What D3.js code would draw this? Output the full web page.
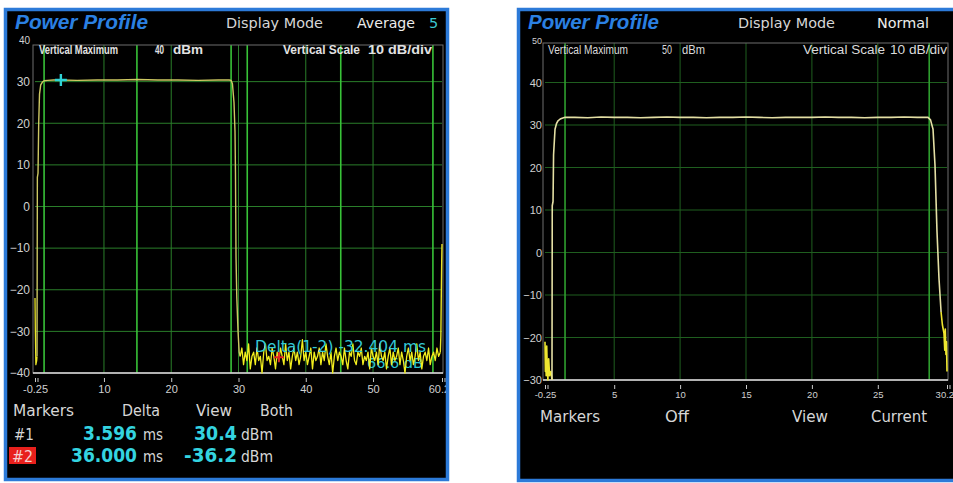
<!DOCTYPE html>
<html>
<head>
<meta charset="utf-8">
<script src="https://cdn.jsdelivr.net/npm/d3@7"></script>
<style>
  html, body { margin: 0; padding: 0; background: #fff; }
  svg { display: block; }
</style>
</head>
<body>
<svg id="chart" width="953" height="483"></svg>
<script>
(function(){
    'use strict';

    // ---- left screen : Display Mode Average 5, 60 ms window
    var avgXTicks = [ -0.25, 10, 20, 30, 40, 50, 60.25 ];
    var avgYTicks = [ 40, 30, 20, 10, 0, -10, -20, -30, -40 ];
    var avgGates = [ 1.1, 14.9, 28.9, 31.3, 45.2, 58.9 ];

    var avgHeadTime = [ -0.25, -0.23, -0.2, -0.17, -0.12, 0.0, 0.05 ];
    var avgHeadPower = [ -22, -25, -30, -33, -38, -37, -36 ];

    var avgTime = [ 0.05, 0.1, 0.2, 0.3, 0.42, 0.6, 0.85, 1.1, 1.6, 2.5, 3.596, 6, 9, 12, 15, 18, 21, 24, 27, 28.6, 28.9, 29.1, 29.33, 29.48, 29.55, 29.63, 29.75, 29.93, 30.1, 30.25 ];
    var avgPower = [ -36, 7, 8, 20, 27, 29.2, 29.9, 30.2, 30.3, 30.4, 30.4, 30.3, 30.4, 30.4, 30.5, 30.4, 30.4, 30.3, 30.4, 30.4, 30.3, 29.5, 25, 18, 8, -12, -22, -30, -35, -36 ];

    // noise floor after the burst, one reading every 0.25 ms from 30.25 ms
    var avgNoiseStart = 30.25,
        avgNoiseStep = 0.25;
    var avgNoise = [
        -36, -34, -38, -35, -37, -33, -39, -36, -35, -38,
        -34, -37, -36, -40, -35, -33, -37, -36, -38, -34,
        -36, -39, -35, -37, -34, -36, -38, -33, -37, -35,
        -39, -36, -34, -37, -35, -38, -36, -32, -37, -35,
        -38, -36, -34, -39, -35, -37, -36, -34, -38, -35,
        -37, -33, -36, -38, -35, -40, -36, -34, -37, -35,
        -36, -38, -34, -37, -39, -35, -36, -33, -37, -38,
        -35, -36, -34, -38, -36, -37, -35, -39, -34, -36,
        -37, -35, -38, -33, -36, -37, -35, -39, -36, -34,
        -38, -35, -37, -36, -34, -38, -35, -37, -40, -36,
        -34, -37, -35, -38, -36, -33, -37, -35, -39, -36,
        -35, -37, -34, -38, -36, -35, -37, -34, -36, -35
    ];
    var avgTailTime = [ 60.0, 60.08, 60.14, 60.2, 60.25 ];
    var avgTailPower = [ -35, -31, -22, -14, -9 ];

    var marker1 = { time : 3.596, power : 30.4 };
    var marker2 = { time : 36.0, power : -36.2 };

    // ---- right screen : Display Mode Normal, 30 ms window
    var normXTicks = [ -0.25, 5, 10, 15, 20, 25, 30.25 ];
    var normYTicks = [ 50, 40, 30, 20, 10, 0, -10, -20, -30 ];
    var normGates = [ 1.27, 28.9 ];

    var normHeadTime = [ -0.25, -0.22, -0.19, -0.16, -0.12, -0.08, -0.03, 0.03, 0.1, 0.2, 0.28 ];
    var normHeadPower = [ -21, -28, -23, -29, -22, -27, -30, -25, -29, -28, -30 ];

    var normTime = [ 0.28, 0.3, 0.36, 0.4, 0.51, 0.62, 0.74, 0.9, 1.05, 1.27, 2, 3, 4, 5, 6, 7, 8, 9, 10, 11, 12, 13, 14, 15, 16, 17, 18, 19, 20, 21, 22, 23, 24, 25, 26, 27, 28, 28.81, 29.0, 29.19, 29.34, 29.49, 29.64, 29.8 ];
    var normPower = [ -30, 11, 12, 23, 29, 30.3, 31.0, 31.4, 31.6, 31.8, 31.8, 31.7, 31.9, 31.8, 31.8, 31.7, 31.8, 31.9, 31.8, 31.8, 31.7, 31.8, 31.8, 31.9, 31.8, 31.7, 31.8, 31.8, 31.8, 31.9, 31.8, 31.8, 31.7, 31.8, 31.8, 31.9, 31.8, 31.8, 31.2, 29, 20.5, 5, -6, -14 ];

    var normTailTime = [ 29.8, 29.9, 30.02, 30.08, 30.12, 30.17, 30.21, 30.25 ];
    var normTailPower = [ -14, -17, -19, -23, -18, -24, -21, -28 ];

    var svg = d3.select( '#chart' );

    function label( g, txt, xPos, yPos, opts ){
        opts = opts || {};
        var t = g.append( 'text' )
            .attr( 'x', xPos )
            .attr( 'y', yPos )
            .attr( 'fill', opts.fill || '#d6d6d6' )
            .attr( 'font-size', opts.size || 15 )
            .attr( 'font-family', opts.family || 'DejaVu Sans, sans-serif' )
            .attr( 'font-weight', opts.weight || 'normal' )
            .attr( 'font-style', opts.style || 'normal' )
            .attr( 'text-anchor', opts.anchor || 'start' )
            .text( txt );

        if ( opts.width ){
            t.attr( 'textLength', opts.width ).attr( 'lengthAdjust', 'spacingAndGlyphs' );
        }
        return t;
    }

    function traceLine( x, y ){
        return d3.line()
            .x( function( d ){ return x( d[0] ); } )
            .y( function( d ){ return y( d[1] ); } );
    }

    function pairs( times, values ){
        return times.map( function( t, i ){ return [ t, values[i] ]; } );
    }

    function drawScreen( cfg ){
        var outer = svg.append( 'g' ),
            x = d3.scaleLinear().domain( cfg.xDomain ).range( cfg.xRange ),
            y = d3.scaleLinear().domain( cfg.yDomain ).range( cfg.yRange ),
            top = cfg.frameTop,
            bottom = y( cfg.yDomain[0] ),
            g, plot, axis, line = traceLine( x, y );

        outer.append( 'clipPath' )
            .attr( 'id', cfg.id + '-clip' )
            .append( 'rect' )
            .attr( 'x', cfg.box[0] ).attr( 'y', cfg.box[1] )
            .attr( 'width', cfg.box[2] ).attr( 'height', cfg.box[3] );

        g = outer.append( 'g' ).attr( 'clip-path', 'url(#' + cfg.id + '-clip)' );

        g.append( 'rect' )
            .attr( 'x', cfg.box[0] ).attr( 'y', cfg.box[1] )
            .attr( 'width', cfg.box[2] ).attr( 'height', cfg.box[3] )
            .attr( 'fill', '#000' );

        plot = g.append( 'g' );

        // horizontal grid
        plot.selectAll( 'line.hgrid' )
            .data( cfg.yTicks.slice( 1, -1 ) )
            .enter().append( 'line' )
            .attr( 'class', 'hgrid' )
            .attr( 'x1', x( cfg.xDomain[0] ) ).attr( 'x2', x( cfg.xDomain[1] ) )
            .attr( 'y1', function( d ){ return y( d ); } )
            .attr( 'y2', function( d ){ return y( d ); } )
            .attr( 'stroke', cfg.gridColor )
            .attr( 'stroke-width', 1 );

        // vertical grid at the time ticks
        plot.selectAll( 'line.vgrid' )
            .data( cfg.xTicks.slice( 1, -1 ) )
            .enter().append( 'line' )
            .attr( 'class', 'vgrid' )
            .attr( 'x1', function( d ){ return x( d ); } )
            .attr( 'x2', function( d ){ return x( d ); } )
            .attr( 'y1', top ).attr( 'y2', bottom )
            .attr( 'stroke', cfg.gridColor )
            .attr( 'stroke-width', 1 );

        // gate lines
        plot.selectAll( 'line.gate' )
            .data( cfg.gates )
            .enter().append( 'line' )
            .attr( 'class', 'gate' )
            .attr( 'x1', function( d ){ return x( d ); } )
            .attr( 'x2', function( d ){ return x( d ); } )
            .attr( 'y1', top ).attr( 'y2', bottom )
            .attr( 'stroke', cfg.gateColor )
            .attr( 'stroke-width', 1.6 );

        // frame
        plot.append( 'rect' )
            .attr( 'x', x( cfg.xDomain[0] ) - 2 ).attr( 'y', top )
            .attr( 'width', x( cfg.xDomain[1] ) - x( cfg.xDomain[0] ) + 3 )
            .attr( 'height', bottom - top )
            .attr( 'fill', 'none' )
            .attr( 'stroke', '#6e6e6e' )
            .attr( 'stroke-width', 1 );

        // y labels
        axis = d3.axisLeft( y )
            .tickValues( cfg.yTicks )
            .tickSize( 0 )
            .tickPadding( 0 )
            .tickFormat( d3.format( 'd' ) );
        plot.append( 'g' )
            .attr( 'transform', 'translate(' + cfg.yLabelX + ',0)' )
            .call( axis )
            .call( function( a ){
                a.select( '.domain' ).remove();
                a.selectAll( 'text' )
                    .attr( 'fill', '#d0d0d0' )
                    .attr( 'font-size', cfg.yLabelSize )
                    .attr( 'font-family', cfg.tickFamily );
                a.selectAll( '.tick' ).filter( function( d ){ return d === cfg.yDomain[1]; } )
                    .select( 'text' ).attr( 'font-size', cfg.yLabelSize - 2 ).attr( 'dy', '0.35em' );
            } );

        // x axis
        axis = d3.axisBottom( x )
            .tickValues( cfg.xTicks )
            .tickSize( 4 )
            .tickPadding( cfg.xLabelPad )
            .tickFormat( function( d ){ return String( d ); } );
        plot.append( 'g' )
            .attr( 'transform', 'translate(0,' + ( bottom + cfg.tickGap ) + ')' )
            .call( axis )
            .call( function( a ){
                a.select( '.domain' ).remove();
                a.selectAll( 'line' ).attr( 'stroke', '#c8c8c8' );
                a.selectAll( 'text' )
                    .attr( 'fill', '#d0d0d0' )
                    .attr( 'font-size', cfg.xLabelSize )
                    .attr( 'font-family', cfg.tickFamily );
                a.selectAll( '.tick' )
                    .filter( function( d, i ){ return i === 0 || i === cfg.xTicks.length - 1; } )
                    .append( 'line' )
                    .attr( 'x1', 2.5 ).attr( 'x2', 2.5 ).attr( 'y2', 4 )
                    .attr( 'stroke', '#c8c8c8' );
            } );

        plot.append( 'line' )
            .attr( 'x1', x( cfg.xDomain[0] ) - 2 ).attr( 'x2', x( cfg.xDomain[1] ) + 1 )
            .attr( 'y1', bottom ).attr( 'y2', bottom )
            .attr( 'stroke', '#dcdcdc' )
            .attr( 'stroke-width', 1.5 );

        if ( cfg.under ){
            cfg.under( plot, x, y );
        }

        cfg.traces.forEach( function( tr ){
            plot.append( 'path' )
                .attr( 'd', line( tr.points ) )
                .attr( 'fill', 'none' )
                .attr( 'stroke', tr.color )
                .attr( 'stroke-width', tr.width )
                .attr( 'stroke-linejoin', 'round' );
        } );

        if ( cfg.over ){
            cfg.over( plot, x, y );
        }

        cfg.texts( g );

        // blue bezel on top
        outer.append( 'rect' )
            .attr( 'x', cfg.box[0] ).attr( 'y', cfg.box[1] )
            .attr( 'width', cfg.box[2] ).attr( 'height', cfg.box[3] )
            .attr( 'fill', 'none' )
            .attr( 'stroke', '#2c7ad8' )
            .attr( 'stroke-width', 3.5 );
    }

    function plus( g, cx, cy, arm, color, w ){
        g.append( 'path' )
            .attr( 'd', 'M' + ( cx - arm ) + ',' + cy + 'H' + ( cx + arm ) + 'M' + cx + ',' + ( cy - arm ) + 'V' + ( cy + arm ) )
            .attr( 'stroke', color )
            .attr( 'stroke-width', w );
    }

    var noisePoints = avgNoise.map( function( v, i ){ return [ avgNoiseStart + i * avgNoiseStep, v ]; } );

    drawScreen( {
        id : 'avg',
        box : [ 5.5, 9.5, 442, 470 ],
        xDomain : [ -0.25, 60.25 ],
        xRange : [ 35, 442 ],
        yDomain : [ -40, 40 ],
        yRange : [ 373, 40 ],
        frameTop : 45,
        xTicks : avgXTicks,
        yTicks : avgYTicks,
        gates : avgGates,
        gridColor : '#2a7e2a',
        gateColor : '#38c238',
        yLabelX : 30,
        yLabelSize : 12,
        xLabelSize : 11,
        xLabelPad : 3,
        tickGap : 5,
        tickFamily : 'Liberation Sans, Arial, sans-serif',
        traces : [
            { points : pairs( avgHeadTime, avgHeadPower ), color : '#e8e428', width : 1.3 },
            { points : pairs( avgTime, avgPower ), color : '#cdc862', width : 1.4 },
            { points : noisePoints, color : '#f2ee1e', width : 1.3 },
            { points : pairs( avgTailTime, avgTailPower ), color : '#e8e428', width : 1.4 }
        ],
        under : function( g ){
            label( g, '66.6 dB', 367, 368, { fill : '#2ec6d2', size : 13.5, width : 56 } );
        },
        over : function( g, x, y ){
            label( g, 'Delta(1-2)  -32.404 ms', 255, 352, { fill : '#34c8d6', size : 15, width : 171 } );
            plus( g, x( marker1.time ), y( marker1.power ), 6, '#2fd2d6', 2.4 );
            plus( g, x( marker2.time ), y( marker2.power ), 5, '#e02424', 2 );
        },
        texts : function( g ){
            var cyan = '#34d4e0',
                num = { fill : cyan, size : 19, weight : 'bold' };

            label( g, 'Power Profile', 15, 29, { fill : '#2b80e2', size : 20, weight : 'bold', style : 'italic', family : 'Liberation Sans, Arial, sans-serif', width : 133 } );
            label( g, 'Display Mode', 226, 28, { size : 14.5, width : 97 } );
            label( g, 'Average', 357, 28, { fill : '#ececec', size : 14.5, width : 58 } );
            label( g, '5', 429, 28, { fill : '#3cc8d0', size : 14.5 } );

            var small = { fill : '#e2e2e2', size : 12, weight : 'bold', family : 'Liberation Sans, Arial, sans-serif' };
            label( g, 'Vertical Maximum', 39, 54, Object.assign( { width : 79 }, small ) );
            label( g, '40', 155, 54, Object.assign( { width : 9 }, small ) );
            label( g, 'dBm', 173, 54, Object.assign( { width : 30 }, small ) );
            label( g, 'Vertical Scale', 283, 54, Object.assign( { width : 77 }, small ) );
            label( g, '10 dB/div', 368, 54, Object.assign( { width : 64 }, small ) );

            label( g, 'Markers', 13, 416, { size : 16, width : 61 } );
            label( g, 'Delta', 122, 416, { size : 16, width : 38 } );
            label( g, 'View', 196, 416, { size : 16, width : 36 } );
            label( g, 'Both', 260, 416, { size : 16, width : 33 } );

            label( g, '#1', 14, 440, { size : 15, width : 20 } );
            label( g, '3.596', 83, 440, Object.assign( { width : 54 }, num ) );
            label( g, 'ms', 143, 440, { size : 15, width : 20 } );
            label( g, '30.4', 194, 440, Object.assign( { width : 43 }, num ) );
            label( g, 'dBm', 241, 440, { size : 15, width : 32 } );

            g.append( 'rect' )
                .attr( 'x', 9 ).attr( 'y', 447 ).attr( 'width', 27 ).attr( 'height', 17 )
                .attr( 'fill', '#e8201c' );
            label( g, '#2', 12, 462, { fill : '#f4d0d0', size : 15, width : 21 } );
            label( g, '36.000', 71, 462, Object.assign( { width : 66 }, num ) );
            label( g, 'ms', 143, 462, { size : 15, width : 20 } );
            label( g, '-36.2', 184, 462, Object.assign( { width : 53 }, num ) );
            label( g, 'dBm', 241, 462, { size : 15, width : 32 } );
        }
    } );

    drawScreen( {
        id : 'norm',
        box : [ 518.5, 9.5, 446, 471 ],
        xDomain : [ -0.25, 30.25 ],
        xRange : [ 545, 947 ],
        yDomain : [ -30, 50 ],
        yRange : [ 380, 40 ],
        frameTop : 43,
        xTicks : normXTicks,
        yTicks : normYTicks,
        gates : normGates,
        gridColor : '#1f5e1f',
        gateColor : '#2e9e2e',
        yLabelX : 542,
        yLabelSize : 11,
        xLabelSize : 9.5,
        xLabelPad : 2,
        tickGap : 5,
        tickFamily : 'Liberation Sans Narrow, Liberation Sans, Arial, sans-serif',
        traces : [
            { points : pairs( normHeadTime, normHeadPower ), color : '#eee630', width : 1.6 },
            { points : pairs( normTime, normPower ), color : '#e4dfa4', width : 1.6 },
            { points : pairs( normTailTime, normTailPower ), color : '#eee630', width : 1.6 }
        ],
        texts : function( g ){
            label( g, 'Power Profile', 528, 29, { fill : '#2b80e2', size : 20, weight : 'bold', style : 'italic', family : 'Liberation Sans, Arial, sans-serif', width : 131 } );
            label( g, 'Display Mode', 738, 28, { size : 14.5, width : 97 } );
            label( g, 'Normal', 877, 28, { fill : '#ececec', size : 14.5, width : 52 } );

            var small = { fill : '#dadada', size : 12, family : 'Liberation Sans, Arial, sans-serif' };
            label( g, 'Vertical Maximum', 548, 54, Object.assign( { width : 80 }, small ) );
            label( g, '50', 662, 54, Object.assign( { width : 10 }, small ) );
            label( g, 'dBm', 682, 54, Object.assign( { width : 23 }, small ) );
            label( g, 'Vertical Scale', 803, 54, Object.assign( { width : 82 }, small ) );
            label( g, '10 dB/div', 890, 54, Object.assign( { width : 57 }, small ) );

            label( g, 'Markers', 540, 422, { size : 16, width : 60 } );
            label( g, 'Off', 665, 422, { size : 16, width : 24 } );
            label( g, 'View', 792, 422, { size : 16, width : 36 } );
            label( g, 'Current', 871, 422, { size : 16, width : 56 } );
        }
    } );
})();
</script>
</body>
</html>
